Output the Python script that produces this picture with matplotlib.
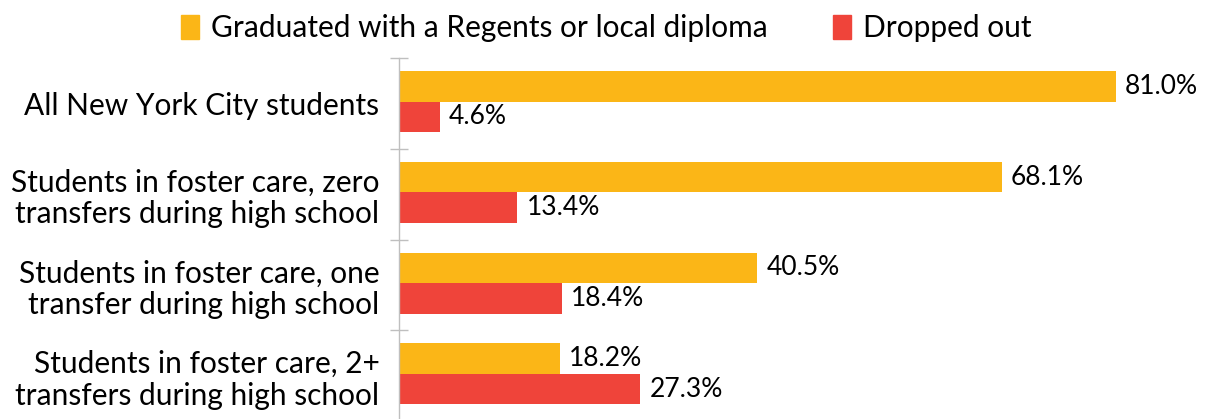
import matplotlib
matplotlib.use("Agg")
import matplotlib.pyplot as plt
import numpy as np
from matplotlib.patches import Patch

categories = [
    "All New York City students",
    "Students in foster care, zero\ntransfers during high school",
    "Students in foster care, one\ntransfer during high school",
    "Students in foster care, 2+\ntransfers during high school",
]
graduated = [81.0, 68.1, 40.5, 18.2]
dropped = [4.6, 13.4, 18.4, 27.3]
series_names = ["Graduated with a Regents or local diploma", "Dropped out"]
colors = ["#FBB617", "#EF443A"]

plt.rcParams['font.family'] = ['Lato', 'DejaVu Sans']

fig = plt.figure(figsize=(12.05, 4.19), dpi=100)
ax = fig.add_axes([0.331, -0.005, 0.661, 0.8666])

y = np.arange(len(categories))
h = 0.337
yc = y - 0.02
b1 = ax.barh(yc - h / 2, graduated, height=h, color=colors[0], label=series_names[0])
b2 = ax.barh(yc + h / 2, dropped, height=h, color=colors[1], label=series_names[1])

for bars, vals in ((b1, graduated), (b2, dropped)):
    for rect, v in zip(bars, vals):
        ax.annotate(f"{v:.1f}%", (rect.get_width(), rect.get_y() + rect.get_height() / 2),
                    xytext=(6.5, 0), textcoords="offset points", va="center", ha="left",
                    fontsize=19, color="black")

ax.set_xlim(0, 90)
ax.set_ylim(-0.5, 3.5)
ax.invert_yaxis()
ax.set_yticks(y)
ax.set_yticklabels(categories, fontsize=21.5, linespacing=1.15)
ax.set_yticks(np.arange(-0.5, 4.0, 1.0), minor=True)
ax.tick_params(axis='y', which='major', length=0, pad=14)
ax.tick_params(axis='y', which='minor', direction='inout', length=13, color='#BFBFBF', width=1)
ax.set_xticks([])
for s in ("top", "right", "bottom"):
    ax.spines[s].set_visible(False)
ax.spines["left"].set_color('#BFBFBF')
ax.spines["left"].set_linewidth(1)

handles = [Patch(color=colors[0]), Patch(color=colors[1])]
fig.legend(handles, series_names, loc="upper center", bbox_to_anchor=(0.503, 1.03), ncol=2,
           frameon=False, fontsize=21.5, handlelength=0.6, handleheight=0.85,
           handletextpad=0.4, columnspacing=2.2)

fig.savefig("out.png", dpi=100)
